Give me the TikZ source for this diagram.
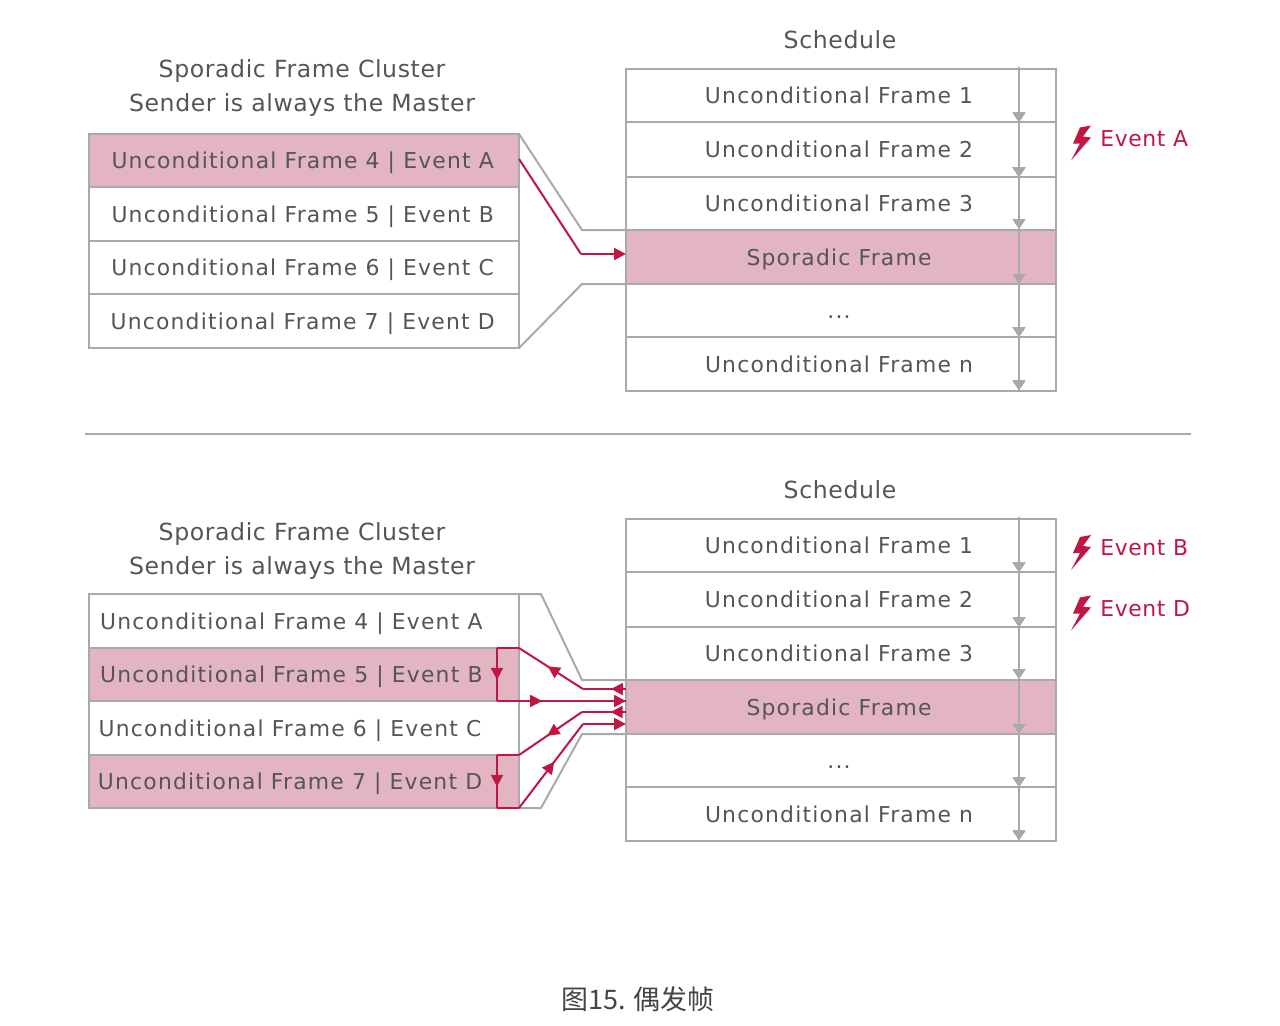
\documentclass[tikz,border=0pt]{standalone}
\usepackage{fontspec}
\setmainfont{DejaVu Sans}
\newfontfamily\cjkfont{Noto Sans CJK SC}
\usetikzlibrary{arrows.meta,decorations.markings}
\definecolor{grayline}{HTML}{A9A9A9}
\definecolor{pinkfill}{HTML}{E3B4C2}
\definecolor{redline}{HTML}{BE1744}
\definecolor{txtgray}{HTML}{555555}
\newcommand{\rowfont}{\fontsize{16.4pt}{18pt}\selectfont\addfontfeatures{LetterSpace=5.5}}
\newcommand{\evtfont}{\fontsize{16.4pt}{18pt}\selectfont\addfontfeatures{LetterSpace=3}}
\newcommand{\headfont}{\fontsize{17.7pt}{25.5pt}\selectfont\addfontfeatures{LetterSpace=2.5}}
\newcommand{\sr}[1]{#1\hspace*{3pt}}
\tikzset{
  x=0.75pt,y=-0.75pt,
  row/.style={draw=grayline,line width=1.5pt,inner sep=0pt,outer sep=0pt,text=txtgray,font=\rowfont,fill=white,
    minimum width=322.5pt,minimum height=#1*0.75pt,text height=13.5pt,text depth=1.5pt},
  hot/.style={row=#1,fill=pinkfill},
  head/.style={text=txtgray,font=\headfont,align=center,inner sep=0pt},
  evt/.style={text=redline,font=\evtfont,anchor=west,inner sep=0pt},
  gline/.style={draw=grayline,line width=1.5pt},
  rline/.style={draw=redline,line width=1.5pt},
  rarrow/.style={rline,-{Triangle[length=9pt,width=9pt]}},
  midtip/.style={postaction={decorate},decoration={markings,mark=at position #1 with {\arrow{Triangle[length=9pt,width=9pt,color=redline]}}}},
  gtip/.style={postaction={decorate},decoration={markings,mark=at position #1 with {\arrow{Triangle[length=7pt,width=9pt,color=grayline]}}}},
  bolt/.pic={\fill[redline] (10,2)--(21,0)--(13,11)--(21,12)--(1,35)--(10,18)--(3,18)--cycle;},
}
\begin{document}
\begin{tikzpicture}
\useasboundingbox (0,0) rectangle (1280,1025);
% ---- top schedule
\node[head,anchor=base] (st) at (840,48) {Schedule};
\node[row=53] (a1) at (841,95.5) {\sr{Unconditional Frame 1}};
\node[row=55] (a2) at (841,149.5) {\sr{Unconditional Frame 2}};
\node[row=53] (a3) at (841,203.5) {\sr{Unconditional Frame 3}};
\node[hot=54] (a4) at (841,257) {\sr{Sporadic Frame}};
\node[row=53] (a5) at (841,310.5) {\sr{...}};
\node[row=54] (a6) at (841,364) {\sr{Unconditional Frame n}};
\coordinate (atop) at (1019,67);
\coordinate (a6b) at (1019,390);
\draw[gline,gtip=.17,gtip=.34,gtip=.5,gtip=.67,gtip=.835,gtip=1] (atop) -- (a6b);
% ---- top cluster
\node[head] (ct) at (302,88) {Sporadic Frame Cluster\\Sender is always the Master};
\node[hot=53] (b4) at (304,160.5) {Unconditional Frame 4 | Event A\hspace*{2pt}};
\node[row=54] (b5) at (304,214) {Unconditional Frame 5 | Event B\hspace*{2pt}};
\node[row=53] (b6) at (304,267.5) {Unconditional Frame 6 | Event C\hspace*{2pt}};
\node[row=54] (b7) at (304,321) {Unconditional Frame 7 | Event D\hspace*{2pt}};
\coordinate (f1) at (582,230);
\coordinate (f2) at (582,284);
\coordinate (f3) at (581,254);
\coordinate (f4) at (519,159);
\coordinate (f5) at (626,254);
\draw[gline] (b4.north east) -- (f1) -- (a4.north west);
\draw[gline] (b7.south east) -- (f2) -- (a4.south west);
\draw[rline] (f4) -- (f3);
\draw[rarrow] (f3) -- (f5);
% ---- event A
\pic at (1070,125.5) {bolt};
\node[evt] (ea) at (1100,139) {Event A};
% ---- divider
\coordinate (d1) at (85,434);
\coordinate (d2) at (1191,434);
\draw[gline] (d1) -- (d2);
% ---- bottom schedule
\node[head,anchor=base] (st2) at (840,498) {Schedule};
\node[row=53] (c1) at (841,545.5) {\sr{Unconditional Frame 1}};
\node[row=55] (c2) at (841,599.5) {\sr{Unconditional Frame 2}};
\node[row=53] (c3) at (841,653.5) {\sr{Unconditional Frame 3}};
\node[hot=54] (c4) at (841,707) {\sr{Sporadic Frame}};
\node[row=53] (c5) at (841,760.5) {\sr{...}};
\node[row=54] (c6) at (841,814) {\sr{Unconditional Frame n}};
\coordinate (ctop) at (1019,517);
\coordinate (c6b) at (1019,840);
\draw[gline,gtip=.17,gtip=.34,gtip=.5,gtip=.67,gtip=.835,gtip=1] (ctop) -- (c6b);
% ---- bottom cluster
\node[head] (ct2) at (302,550.5) {Sporadic Frame Cluster\\Sender is always the Master};
\node[row=54] (d4) at (304,621) {Unconditional Frame 4 | Event A\hspace*{19pt}};
\node[hot=53] (d5) at (304,674.5) {Unconditional Frame 5 | Event B\hspace*{19pt}};
\node[row=54] (d6) at (304,728) {Unconditional Frame 6 | Event C\hspace*{21pt}};
\node[hot=53] (d7) at (304,781.5) {Unconditional Frame 7 | Event D\hspace*{21pt}};
\coordinate (g1) at (541,594);
\coordinate (g2) at (582,680);
\coordinate (g3) at (541,808);
\coordinate (g4) at (582,734);
\draw[gline] (d4.north east) -- (g1) -- (g2) -- (c4.north west);
\draw[gline] (d7.south east) -- (g3) -- (g4) -- (c4.south west);
% ---- red routes
\coordinate (r5t) at (497,648);
\coordinate (r5b) at (497,701);
\coordinate (r7t) at (497,755);
\coordinate (r7b) at (497,808);
\coordinate (k1) at (583,689);
\coordinate (k2) at (582,712);
\coordinate (k3) at (583,724);
\coordinate (e1) at (626,689);
\coordinate (e2) at (626,701);
\coordinate (e3) at (626,712);
\coordinate (e4) at (626,724);
\draw[rline] (d5.north east) -- (r5t);
\draw[rline,midtip=.6] (r5t) -- (r5b);
\draw[rline,midtip=.35] (r5b) -- (e2);
\draw[rarrow] (r5b) -- (e2);
\draw[rline,midtip=.55] (k1) -- (d5.north east);
\draw[rline,midtip=.35] (e1) -- (k1);
\draw[rline] (d7.north east) -- (r7t);
\draw[rline,midtip=.6] (r7t) -- (r7b);
\draw[rline] (r7b) -- (d7.south east);
\draw[rline,midtip=.55] (k2) -- (d7.north east);
\draw[rline,midtip=.35] (e3) -- (k2);
\draw[rline,midtip=.55] (d7.south east) -- (k3);
\draw[rarrow] (k3) -- (e4);
% ---- events B, D
\pic at (1070,535) {bolt};
\node[evt] (eb) at (1100,548) {Event B};
\pic at (1070,595.5) {bolt};
\node[evt] (ed) at (1100,609) {Event D};
% ---- caption
\node[text=txtgray!80!black,font=\fontsize{20.2pt}{24pt}\selectfont\cjkfont,inner sep=0pt] (cap) at (638,999) {图15. 偶发帧};
\end{tikzpicture}
\end{document}
